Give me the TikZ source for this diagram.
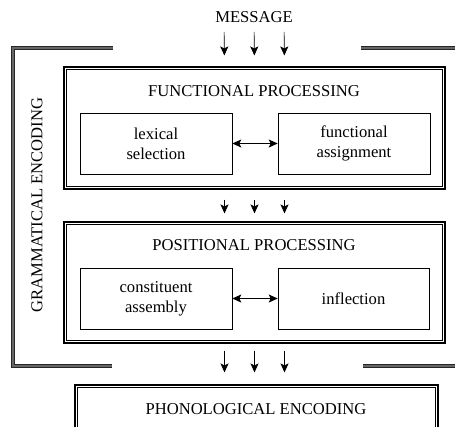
\documentclass[tikz,border=0pt]{standalone}
\usepackage{fontspec}
\setmainfont{Liberation Serif}
\usetikzlibrary{positioning,arrows.meta}

\begin{document}
\begin{tikzpicture}[x=1pt, y=-1pt,
    every node/.style={font=\fontsize{16.6}{20}\selectfont, inner sep=0pt},
    outerbox/.style={draw, line width=1.1pt},
    innerline/.style={draw, line width=0.6pt},
    innerbox/.style={draw, line width=0.6pt, align=center},
    bracket/.style={draw=black!85, double=black!60, double distance=1.6pt, line width=1.1pt},
    arr/.style={-{Stealth[length=9pt, width=8pt, inset=2pt]}, line width=0.7pt},
    darr/.style={{Stealth[length=9pt, width=8pt, inset=2pt]}-{Stealth[length=9pt, width=8pt, inset=2pt]}, line width=0.7pt}]

    \useasboundingbox (0,0) rectangle (455,426);
    \clip (0,0) rectangle (455,426);

    \node (msg) at (254, 17) {MESSAGE};

    % functional processing
    \node[outerbox, minimum width=381pt, minimum height=122pt] (func) at (254.5, 128) {};
    \draw[innerline] ([shift={(2.8,2.8)}]func.north west) rectangle ([shift={(-2.8,-2.8)}]func.south east);
    \node (ftitle) at (254, 91) {FUNCTIONAL PROCESSING};
    \node[innerbox, minimum width=152pt, minimum height=61pt] (lex) at (156, 143.5) {lexical\\selection};
    \node[innerbox, minimum width=152pt, minimum height=61pt] (fasg) at (354, 143.5) {functional\\assignment};

    % positional processing
    \node[outerbox, minimum width=381pt, minimum height=121pt] (pos) at (254.5, 282.5) {};
    \draw[innerline] ([shift={(2.8,2.8)}]pos.north west) rectangle ([shift={(-2.8,-2.8)}]pos.south east);
    \node (ptitle) at (254, 245) {POSITIONAL PROCESSING};
    \node[innerbox, minimum width=152pt, minimum height=61pt] (const) at (156, 298.5) {constituent\\assembly};
    \node[innerbox, minimum width=151pt, minimum height=61pt] (infl) at (353.5, 298.5) {inflection};

    % phonological encoding
    \node[outerbox, minimum width=363pt, minimum height=70pt] (phon) at (256.5, 420) {};
    \draw[innerline] ([shift={(2.8,2.8)}]phon.north west) rectangle ([shift={(-2.8,-2.8)}]phon.south east);
    \node (phtitle) at (256, 409) {PHONOLOGICAL ENCODING};

    \node[rotate=90] (gram) at (37, 205) {GRAMMATICAL ENCODING};

    \path[bracket] (113, 48) -- (13, 48) -- (13, 366) -- (112, 366);
    \path[bracket] (361, 48) -- (460, 48);
    \path[bracket] (363, 366) -- (460, 366);

    \draw[darr] (lex) -- (fasg);
    \draw[darr] (const) -- (infl);

    \foreach \dx in {-30, 0, 30} {
        \draw[arr, shorten <=9pt, shorten >=11pt] ([xshift=\dx pt]msg.south) -- ([xshift=\dx pt]func.north);
        \draw[arr, shorten <=10pt, shorten >=8pt] ([xshift=\dx pt]func.south) -- ([xshift=\dx pt]pos.north);
        \draw[arr, shorten <=7pt, shorten >=12pt] ([xshift=\dx pt]pos.south) -- ([xshift=\dx pt]phon.north -| pos.north);
    }
\end{tikzpicture}
\end{document}
